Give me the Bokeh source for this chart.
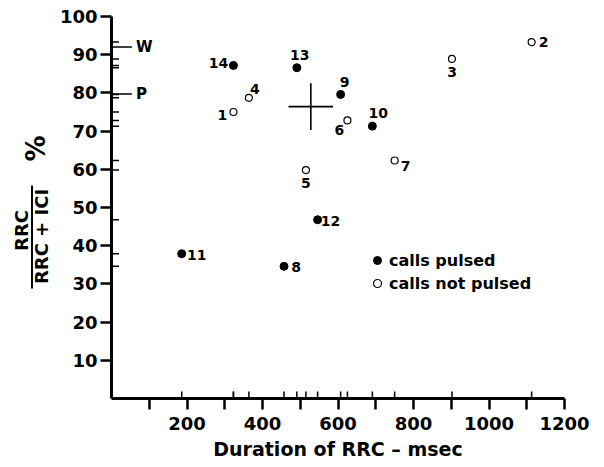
import math

from bokeh.core.properties import value
from bokeh.embed import file_html
from bokeh.layouts import row
from bokeh.models import ColumnDataSource, FixedTicker, Legend, LegendItem
from bokeh.plotting import figure
from bokeh.resources import INLINE

# --- data -----------------------------------------------------------------
call_ids = [1, 2, 3, 4, 5, 6, 7, 8, 9, 10, 11, 12, 13, 14]
duration_ms = [323, 1113, 902, 364, 515, 625, 750, 457, 607, 691, 186, 546, 491, 323]
rrc_pct = [75.0, 93.3, 88.9, 78.7, 59.8, 72.8, 62.3, 34.6, 79.6, 71.3, 37.9, 46.8, 86.6, 87.2]
pulsed = [False, False, False, False, False, False, False,
          True, True, True, True, True, True, True]

# mean (cross) with its spread
mean_duration = 528
mean_pct = 76.4
spread_duration = 59
spread_pct = 6.1

# reference marks on the ordinate
ref_names = ["W", "P"]
ref_pct = [92.0, 79.7]

x_ticks = list(range(100, 1300, 100))
x_tick_labels = {t: (str(t) if t % 200 == 0 else "") for t in x_ticks}
y_ticks = list(range(10, 110, 10))

# --- layout / style ---------------------------------------------------------
FONT = "DejaVu Sans"
W, H = 604, 467
TITLE_W = 50            # strip on the left holding the ordinate title
# pixel offsets of each call's number label from its marker
label_dx = [-11, 12, 0, 6, 0, -8, 11, 12, 4, 6, 15, 13, 3, -15]
label_dy = [3, 0, 13, -9, 13, 10, 5, 1, -12, -13, 1, 1, -13, -2]

p = figure(title=None, frame_width=453, frame_height=382,
           x_range=(0, 1200), y_range=(0, 100),
           output_backend="svg", toolbar_location=None,
           min_border_left=111 - TITLE_W, min_border_right=40,
           min_border_top=16, min_border_bottom=69)
p.outline_line_color = None
p.grid.visible = False
p.background_fill_color = "white"
p.border_fill_color = "white"

for ax in (p.xaxis[0], p.yaxis[0]):
    ax.axis_line_width = 3
    ax.axis_line_color = "black"
    ax.major_tick_line_width = 2.5
    ax.major_tick_line_color = "black"
    ax.major_tick_in = 0
    ax.major_tick_out = 11
    ax.minor_tick_line_color = None
    ax.major_label_text_font = FONT
    ax.major_label_text_font_style = "bold"
    ax.major_label_text_font_size = "18px"
    ax.major_label_text_color = "black"

p.xaxis.ticker = FixedTicker(ticks=x_ticks)
p.xaxis.major_label_overrides = x_tick_labels
p.xaxis.major_label_standoff = 7
p.xaxis.axis_label = "Duration of RRC \u2013 msec"
p.xaxis.axis_label_text_font = FONT
p.xaxis.axis_label_text_font_style = "bold"
p.xaxis.axis_label_text_font_size = "19px"
p.xaxis.axis_label_text_color = "black"
p.xaxis.axis_label_standoff = 5

p.yaxis.ticker = FixedTicker(ticks=y_ticks)
p.yaxis.major_label_standoff = 3

# rug ticks marking each call on both axes
p.segment(x0=duration_ms, y0=[0] * len(duration_ms), x1=duration_ms,
          y1=[1.8] * len(duration_ms), line_color="black", line_width=1.5)
p.segment(x0=[0] * len(rrc_pct), y0=rrc_pct, x1=[20] * len(rrc_pct), y1=rrc_pct,
          line_color="black", line_width=1.5)

# W / P reference marks
ref_src = ColumnDataSource(dict(name=ref_names, y=ref_pct,
                                x0=[0] * len(ref_pct), x1=[54] * len(ref_pct)))
p.segment(x0="x0", y0="y", x1="x1", y1="y", source=ref_src,
          line_color="black", line_width=1.5)
p.text(x="x1", y="y", text="name", source=ref_src, x_offset=4,
       text_font=value(FONT), text_font_style="bold", text_font_size="15px",
       text_align="left", text_baseline="middle", text_color="black")

# mean cross
p.segment(x0=[mean_duration - spread_duration, mean_duration],
          y0=[mean_pct, mean_pct - spread_pct],
          x1=[mean_duration + spread_duration, mean_duration],
          y1=[mean_pct, mean_pct + spread_pct],
          line_color="black", line_width=1.6)

src = ColumnDataSource(dict(
    x=duration_ms, y=rrc_pct, label=[str(i) for i in call_ids],
    dx=label_dx, dy=label_dy,
))
src_p = ColumnDataSource(dict(
    x=[d for d, f in zip(duration_ms, pulsed) if f],
    y=[v for v, f in zip(rrc_pct, pulsed) if f]))
src_n = ColumnDataSource(dict(
    x=[d for d, f in zip(duration_ms, pulsed) if not f],
    y=[v for v, f in zip(rrc_pct, pulsed) if not f]))

r_p = p.scatter("x", "y", source=src_p, marker="circle", size=8,
                fill_color="black", line_color="black", line_width=1)
r_n = p.scatter("x", "y", source=src_n, marker="circle", size=7,
                fill_color="white", line_color="black", line_width=1.2)

p.text(x="x", y="y", text="label", source=src, x_offset="dx", y_offset="dy",
       text_font=value(FONT), text_font_style="bold", text_font_size="14px",
       text_align="center", text_baseline="middle", text_color="black")

legend = Legend(items=[LegendItem(label="calls pulsed", renderers=[r_p]),
                       LegendItem(label="calls not pulsed", renderers=[r_n])],
                location=(256, 105), orientation="vertical",
                border_line_color=None, background_fill_alpha=0,
                padding=0, margin=0, spacing=3,
                glyph_width=20, glyph_height=20, label_height=20,
                label_standoff=2, label_text_font=FONT,
                label_text_font_style="bold", label_text_font_size="16px",
                label_text_color="black")
p.add_layout(legend)

# ordinate title strip: RRC / (RRC + ICI) %, laid out in pixel coordinates
t = figure(title=None, frame_width=TITLE_W, frame_height=H,
           x_range=(0, TITLE_W), y_range=(H, 0),
           output_backend="svg", toolbar_location=None,
           x_axis_type=None, y_axis_type=None,
           min_border=0, min_border_left=0, min_border_right=0,
           min_border_top=0, min_border_bottom=0)
t.outline_line_color = None
t.grid.visible = False
t.background_fill_color = "white"
t.border_fill_color = "white"

title_src = ColumnDataSource(dict(
    x=[21, 40.5, 35], y=[214, 220, 132],
    text=["RRC", "RRC + ICI", "%"], size=["18px", "18px", "26px"]))
t.text(x="x", y="y", text="text", source=title_src, angle=math.pi / 2,
       text_font=value(FONT), text_font_style="bold", text_font_size="size",
       text_align="center", text_baseline="middle", text_color="black")
t.segment(x0=[31.5], y0=[169], x1=[31.5], y1=[272], line_color="black", line_width=2)

layout = row(t, p, spacing=0)
open("out.html", "w").write(file_html(layout, INLINE))
